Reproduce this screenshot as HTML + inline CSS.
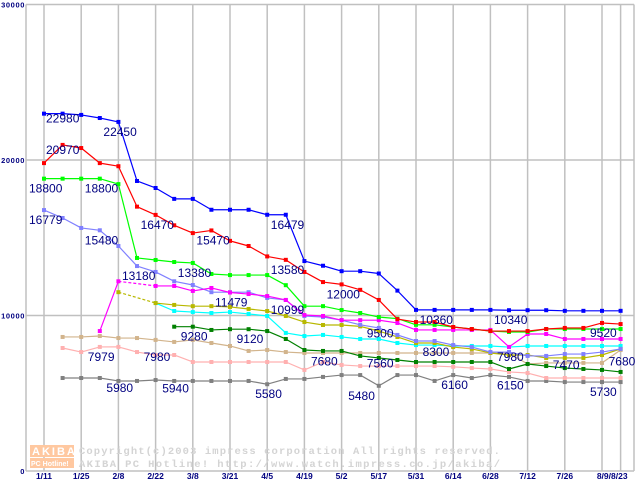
<!DOCTYPE html>
<html><head><meta charset="utf-8"><style>
body{margin:0;background:#fff;}
svg{display:block;font-family:"Liberation Sans",sans-serif;}
</style></head><body>
<svg id="chart" width="640" height="480" viewBox="0 0 640 480" xmlns="http://www.w3.org/2000/svg">
<rect x="0" y="0" width="640" height="480" fill="#fff"/>
<g id="grid"></g>
<g id="watermark">
<rect x="30" y="445" width="44" height="12" fill="#ffc8a0"/>
<text x="32" y="455" font-size="11" font-weight="bold" fill="#fff" letter-spacing="2">AKIBA</text>
<rect x="30" y="458" width="44" height="10" fill="#ffc8a0"/>
<text x="31" y="466" font-size="7" font-weight="bold" fill="#fff">PC Hotline!</text>
<text x="79" y="454" font-family="Liberation Mono, monospace" font-size="10.5" font-weight="bold" fill="#d4d4d4" textLength="421" lengthAdjust="spacing">Copyright(c)2003 impress corporation All rights reserved.</text>
<text x="79" y="467" font-family="Liberation Mono, monospace" font-size="10.5" font-weight="bold" fill="#d4d4d4" textLength="421" lengthAdjust="spacing">AKIBA PC Hotline!  http://www.watch.impress.co.jp/akiba/</text>
</g>
<g id="series"></g>
<g id="labels"></g>
<g id="axes"></g>
</svg>
<script>
const xLabels=["1/11","1/25","2/8","2/22","3/8","3/21","4/5","4/19","5/2","5/17","5/31","6/14","6/28","7/12","7/26","8/9","8/23"];
const yTicks=[0,10000,20000,30000];
const blue=[22980,22980,22900,22700,22450,18650,18200,17500,17500,16800,16800,16800,16479,16479,13500,13200,12850,12850,12700,11600,10360,10360,10360,10360,10360,10340,10340,10340,10300,10300,10300,10300];
const red=[19800,20970,20770,19800,19600,17000,16470,15800,15300,15470,14800,14470,13800,13580,12800,12150,12000,11650,11000,9770,9580,9580,9260,9130,9000,9000,9000,9130,9200,9200,9520,9450];
const green=[18800,18800,18800,18800,18450,13700,13570,13440,13380,12670,12600,12600,12600,11950,10600,10600,10350,10160,9900,9800,9400,9400,9260,9130,9000,8940,8940,9130,9130,9130,9130,9130];
const lavender=[16779,16270,15630,15480,14470,13180,12800,12200,11960,11500,11500,11500,11130,10999,9970,9900,9700,9400,9200,8750,8360,8360,8100,7970,7650,7650,7400,7400,7520,7520,7650,7850];
const magenta=[null,null,null,9000,12200,null,11900,11900,11580,11770,11479,11380,11250,11000,10030,9970,9700,9700,9700,9520,9070,9070,9070,9070,9070,7980,8810,8810,8490,8490,8490,8490];
const olive=[null,null,null,null,11500,null,10800,10680,10600,10600,10550,10420,10290,9970,9580,9390,9390,9300,9000,8620,8230,8230,7970,7850,7590,7460,7460,7270,7270,7270,7460,7850];
const cyan=[null,null,null,null,null,null,10800,10290,10220,10160,10220,10100,9970,8880,8680,8750,8620,8490,8490,8230,8100,8100,8040,8040,8040,7970,8040,8040,8040,8040,8040,8040];
const dkgreen=[null,null,null,null,null,null,null,9280,9280,9070,9120,9120,9000,8490,7780,7720,7720,7400,7270,7140,7010,7010,7010,7010,7010,6560,6880,6750,6620,6560,6500,6370];
const tan=[null,8620,8620,8680,8550,8550,8430,8300,8430,8230,8040,7720,7780,7650,7590,7590,7590,7590,7590,7590,7590,7590,7590,7590,7590,7590,6880,6950,6950,6950,6950,7780];
const pink=[null,7910,7650,7979,7980,7650,7460,7460,7010,7010,7010,7010,7010,7010,6500,7010,6820,6750,6750,6750,6750,6750,6700,6620,6560,6370,6300,5980,5980,5980,5980,5980];
const gray=[null,5980,5980,5980,5790,5790,5850,5790,5790,5790,5790,5790,5580,5920,5920,6050,6170,6170,5480,6170,6170,5790,6170,5980,6170,6050,5790,5790,5720,5720,5720,5720];
const seriesList=[["gray","#808080",gray],["pink","#ffb0b0",pink],["tan","#d2b48c",tan],["dark-green","#008000",dkgreen],["cyan","#00ffff",cyan],["olive","#b8b800",olive],["lavender","#8080ff",lavender],["magenta","#ff00ff",magenta],["green","#00ff00",green],["red","#ff0000",red],["blue","#0000ff",blue]];
const valueLabels=[["22980",0,22980],["22450",4,22450],["20970",0,20970],["18800",0,18800],["18800",3,18800],["16779",0,16779],["15480",3,15480],["16470",6,16470],["15470",9,15470],["16479",13,16479],["13180",5,13180],["13380",8,13380],["13580",13,13580],["11479",10,11479],["10999",13,10999],["9280",8,9280],["9120",11,9120],["7979",3,7979],["7980",6,7980],["7680",15,7680],["5980",4,5980],["5940",7,5940],["5580",12,5580],["12000",16,12000],["9500",18,9500],["10360",21,10360],["10340",25,10340],["9520",30,9520],["8300",21,8300],["7980",25,7980],["7560",18,7560],["7470",28,7470],["7680",31,7680],["6160",22,6160],["6150",25,6150],["5480",17,5480],["5730",30,5730]];
const labelOffsets=[[2,-9],[-15,-4],[2,-9],[-15,-4],[-15,-4],[-15,-4],[-15,-4],[-15,-4],[-15,-4],[-15,-4],[-15,-4],[-15,-4],[-15,-4],[-15,-4],[-15,-4],[-12,-4],[-12,-4],[-12,-4],[-12,-4],[-12,-4],[-12,-4],[-12,-4],[-12,-4],[-15,-4],[-12,-4],[-15,-4],[-15,-4],[-12,-4],[-12,-4],[-12,-4],[-12,-4],[-12,-4],[-12,-4],[-12,-4],[-12,-4],[-12,-4],[-12,-4]];
const NS="http://www.w3.org/2000/svg";
const X0=44,DX=18.6,Y0=471,PX=0.01555;
function xs(i){return X0+DX*i;}
function ys(v){return Y0-v*PX;}
function mk(tag,attrs,parent){const e=document.createElementNS(NS,tag);for(const k in attrs)e.setAttribute(k,attrs[k]);parent.appendChild(e);return e;}
const grid=document.getElementById('grid');
for(let k=1;k<yTicks.length;k++){const l=mk('line',{x1:26,x2:634,y1:ys(yTicks[k]),y2:ys(yTicks[k]),stroke:'#c0c0c0','stroke-width':1.5},grid);

}
for(let k=0;k<xLabels.length;k++){const xx=k<16?xs(2*k):xs(31);const l=mk('line',{x1:xx,x2:xx,y1:ys(30000),y2:Y0,stroke:'#c0c0c0','stroke-width':1.5},grid);

}
const rb=mk('line',{x1:634,x2:634,y1:ys(30000),y2:Y0,stroke:'#c0c0c0','stroke-width':1.5},grid);


const axes=document.getElementById('axes');
const ya=mk('line',{x1:26,x2:26,y1:ys(30000),y2:Y0,stroke:'#c0c0c0','stroke-width':1.5},axes);


const xa=mk('line',{x1:26,x2:634,y1:Y0,y2:Y0,stroke:'#c0c0c0','stroke-width':1.5},axes);


yTicks.forEach(v=>{const t=mk('text',{x:25,y:ys(v)+3,'text-anchor':'end','font-size':7.5,'font-weight':'bold',fill:'#000080','letter-spacing':0.6},axes);t.textContent=String(v);

});
xLabels.forEach((s,k)=>{let x=k<16?xs(2*k):xs(31);let anchor='middle';if(k==15){x=xs(30)+9;anchor='end';s=s+'/';}if(k==16){x=xs(30)+9;anchor='start';}
const t=mk('text',{x:x,y:479,'text-anchor':anchor,'font-size':8.5,'font-weight':'bold',fill:'#000080'},axes);t.textContent=s;

});
const sg=document.getElementById('series');
seriesList.forEach(([name,col,data])=>{
 const g=mk('g',{},sg);
 
 
 let prev=-1;
 for(let i=0;i<data.length;i++){if(data[i]==null)continue;
  if(prev>=0){const dashed=(i-prev>1);const l=mk('line',{x1:xs(prev),y1:ys(data[prev]),x2:xs(i),y2:ys(data[i]),stroke:col,'stroke-width':1.2},g);if(dashed)l.setAttribute('stroke-dasharray','3,2');}
  prev=i;}
 for(let i=0;i<data.length;i++){if(data[i]==null)continue;
  const r=mk('rect',{x:xs(i)-2,y:ys(data[i])-2,width:4,height:4,fill:col},g);
  
  }
});
const lg=document.getElementById('labels');
valueLabels.forEach(([s,i,v],n)=>{const o=labelOffsets[n];const t=mk('text',{x:xs(i)+o[0],y:ys(v)+18+o[1],'font-size':12,fill:'#000080'},lg);t.textContent=s;

});
</script>
</body></html>
